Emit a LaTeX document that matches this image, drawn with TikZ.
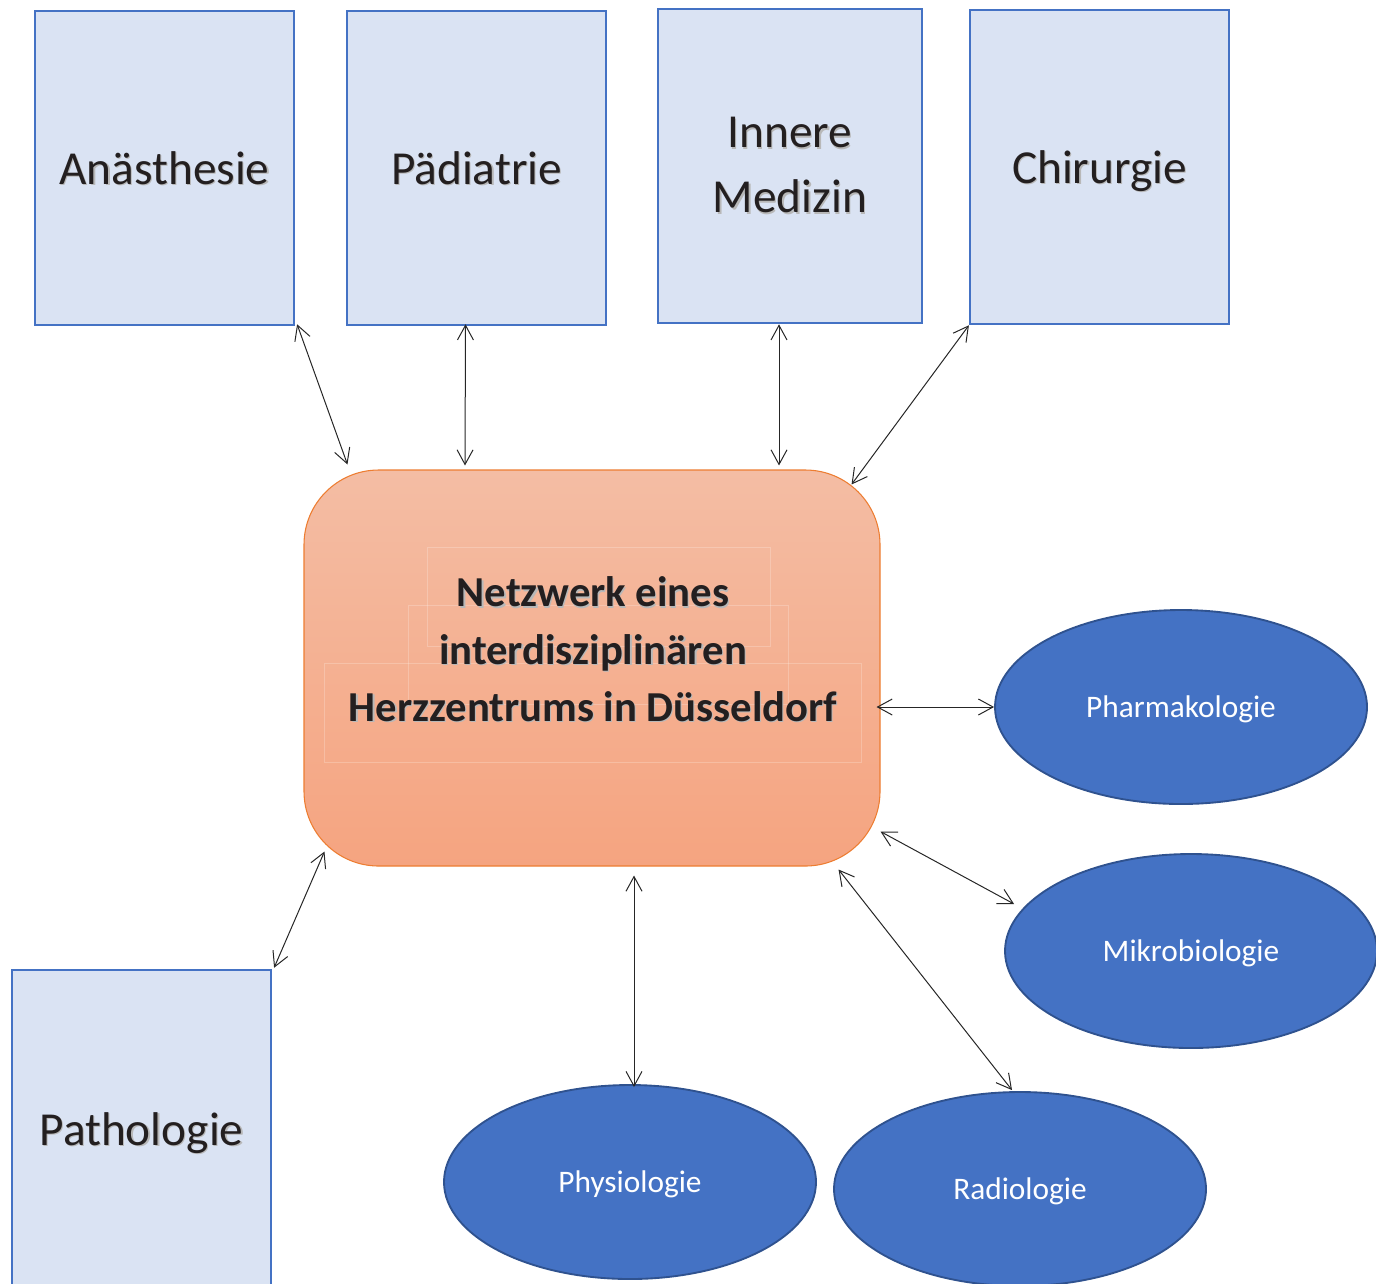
\documentclass[tikz,border=0pt]{standalone}
\usepackage{fontspec}
\setmainfont{Carlito}
\usetikzlibrary{arrows.meta,shapes.geometric,calc}
\definecolor{boxfill}{HTML}{DAE3F3}
\definecolor{boxline}{HTML}{4472C4}
\definecolor{ovalfill}{HTML}{4472C4}
\definecolor{ovalline}{HTML}{2F528F}
\definecolor{hubtop}{HTML}{F4BDA4}
\definecolor{hubbot}{HTML}{F5A480}
\definecolor{hubline}{HTML}{ED7D31}
\definecolor{ink}{HTML}{231F20}
% text with a soft drop shadow
\newcommand\shd[1]{\leavevmode\rlap{\kern0.9pt\raisebox{-0.9pt}{\textcolor{black!28}{#1}}}#1}
\begin{document}
\begin{tikzpicture}[x=0.75pt,y=-0.75pt,
  dept/.style={draw=boxline, line width=1.9pt, fill=boxfill,
    minimum width=194pt, minimum height=235.5pt, inner sep=0pt,
    text=ink, font=\fontsize{35.5}{48.75}\selectfont, align=center},
  oval/.style={ellipse, draw=ovalline, line width=1.4pt, fill=ovalfill,
    minimum width=279pt, minimum height=145.5pt, inner sep=0pt,
    text=white, font=\fontsize{23.5}{28}\selectfont, text depth=0pt},
  hub/.style={rounded corners=56pt, draw=hubline, line width=0.8pt,
    top color=hubtop, bottom color=hubbot,
    minimum width=432pt, minimum height=297pt, inner sep=0pt},
  hubtxt/.style={text=ink, font=\bfseries\fontsize{32}{43}\selectfont, align=center},
  ghost/.style={draw=white, draw opacity=0.22, line width=0.5pt},
  link/.style={draw=black!85, line width=0.75pt,
    {Straight Barb[length=11pt,width=12pt]}-{Straight Barb[length=11pt,width=12pt]}}
]
\useasboundingbox (0,0) rectangle (1376,1283);
\clip (0,0) rectangle (1376,1283);

% departments
\node[dept, text depth=0pt] (ana) at (164.5,168) {\shd{Anästhesie}};
\node[dept, text depth=0pt] (pae) at (476.5,168) {\shd{Pädiatrie}};
\node[dept, minimum width=198pt] (inn) at (790,166) {\shd{Innere}\\\shd{Medizin}};
\node[dept, text depth=0pt] (chi) at (1099.5,167) {\shd{Chirurgie}};
\node[dept, minimum height=238.5pt, text depth=0pt] (pat) at (141.5,1129) {\shd{Pathologie}};

% central hub
\node[hub] (hub) at (592,668) {};
\draw[ghost] (427,547) rectangle (770,646);
\draw[ghost] (408,605) rectangle (788,704);
\draw[ghost] (324,663) rectangle (861,762);
\node[hubtxt] (hubtext) at (593,650)
  {\shd{Netzwerk eines}\\\shd{interdisziplinären}\\\shd{Herzzentrums in Düsseldorf}};

% associated institutes
\node[oval] (pha) at (1181,707) {Pharmakologie};
\node[oval] (mik) at (1191,951) {Mikrobiologie};
\node[oval] (phy) at (630,1182) {Physiologie};
\node[oval] (rad) at (1020,1189) {Radiologie};

% links
\draw[link] ($(ana.south east)+(2,-2)$) -- ($(hub.north west)+(44,-5)$);
\draw[link] ($(pae.south)+(-11,-2)$) -- ($(hub.north)+(-127,-4)$);
\draw[link] ($(inn.south)+(-11,0)$) -- ($(hub.north)+(187,-4)$);
\draw[link] (chi.south west) -- ($(hub.north east)+(-29,15)$);
\draw[link] ($(hub.east |- pha.west)+(-4,0)$) -- (pha.west);
\draw[link] ($(hub.south east)+(0,-35)$) -- ($(mik.west)+(10,-47)$);
\draw[link] ($(hub.south east)+(-42,3)$) -- ($(rad.north)+(-8,-1)$);
\draw[link] ($(hub.south)+(42,9)$) -- ($(phy.north)+(4,3)$);
\draw[link] ($(pat.north east)+(2,-1)$) -- ($(hub.south west)+(21,-15)$);
\end{tikzpicture}
\end{document}
